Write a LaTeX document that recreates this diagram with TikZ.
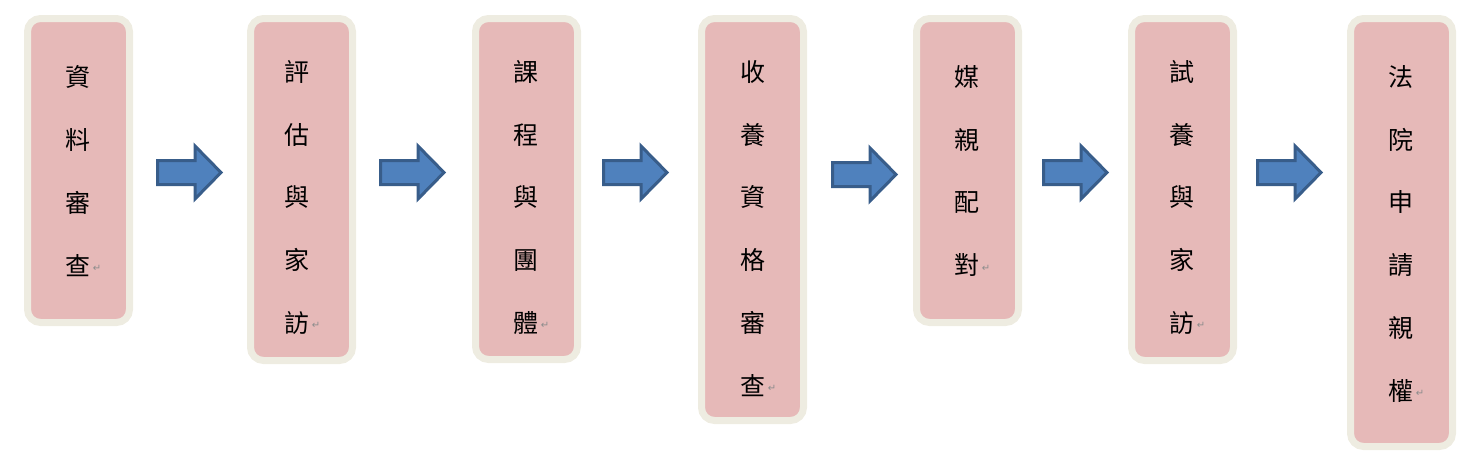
\documentclass[tikz,border=0pt]{standalone}
\usepackage{fontspec}
\usetikzlibrary{calc}
\newfontfamily\cjkfont{Noto Sans CJK TC}
\newfontfamily\dejavufont{DejaVu Sans}
\definecolor{boxfill}{HTML}{E6B9B8}
\definecolor{boxedge}{HTML}{EEECE1}
\definecolor{arrowfill}{HTML}{4F81BD}
\definecolor{arrowedge}{HTML}{385D8A}
\begin{document}
\begin{tikzpicture}[x=1pt,y=-1pt,
  stagebox/.style={draw=boxedge, line width=7pt, fill=boxfill, rounded corners=13pt, inner sep=0pt, outer sep=0pt, anchor=north west},
  ch/.style={font=\cjkfont\fontsize{25}{25}\selectfont, inner sep=0pt, text=black},
  pmark/.style={font=\dejavufont\fontsize{10}{10}\selectfont, inner sep=0pt, text=black!45},
  blockarrow/.style={draw=arrowedge, fill=arrowfill, line width=3pt, line join=miter}]
\useasboundingbox (0,0) rectangle (1477,458);
% boxes (centre line of border)
\node[stagebox, minimum width=102pt, minimum height=304pt] (b1) at (27.5,18.5) {};
\node[stagebox, minimum width=102pt, minimum height=342pt] (b2) at (250.5,18.5) {};
\node[stagebox, minimum width=102pt, minimum height=341pt] (b3) at (475.5,18.5) {};
\node[stagebox, minimum width=102pt, minimum height=402pt] (b4) at (701.5,18.5) {};
\node[stagebox, minimum width=102pt, minimum height=304pt] (b5) at (916.5,18.5) {};
\node[stagebox, minimum width=102pt, minimum height=342pt] (b6) at (1131.5,18.5) {};
\node[stagebox, minimum width=102pt, minimum height=428pt] (b7) at (1350.5,18.5) {};
% texts
\newcommand\stagetext[5]{%
  \foreach \c [count=\i] in {#4} {
    \node[ch] (#1c\i) at (#2, #3+62.7*\i-62.7) {\c};
  }
  \node[pmark] (#1pm) at (#2+19, #3+62.7*#5+3) {↵};
}
\stagetext{t1}{78}{77}{資,料,審,查}{3}
\stagetext{t2}{297}{72}{評,估,與,家,訪}{4}
\stagetext{t3}{526}{72}{課,程,與,團,體}{4}
\stagetext{t4}{753}{72}{收,養,資,格,審,查}{5}
\stagetext{t5}{967}{77}{媒,親,配,對}{3}
\stagetext{t6}{1182}{72}{試,養,與,家,訪}{4}
\stagetext{t7}{1401}{77}{法,院,申,請,親,權}{5}
% block arrows
\newcommand\blockarr[3]{%
  \coordinate (#1) at (#2,#3);
  \draw[blockarrow] ($(#1)+(1.5,-12)$) -- ($(#1)+(39,-12)$) -- ($(#1)+(39,-26.5)$)
    -- ($(#1)+(65,0)$) -- ($(#1)+(39,26.5)$) -- ($(#1)+(39,12)$) -- ($(#1)+(1.5,12)$) -- cycle;
}
\blockarr{a1}{156}{172.5}
\blockarr{a2}{379}{172.5}
\blockarr{a3}{602}{172.5}
\blockarr{a4}{831}{174.5}
\blockarr{a5}{1042}{172.5}
\blockarr{a6}{1256}{172.5}
\end{tikzpicture}
\end{document}
